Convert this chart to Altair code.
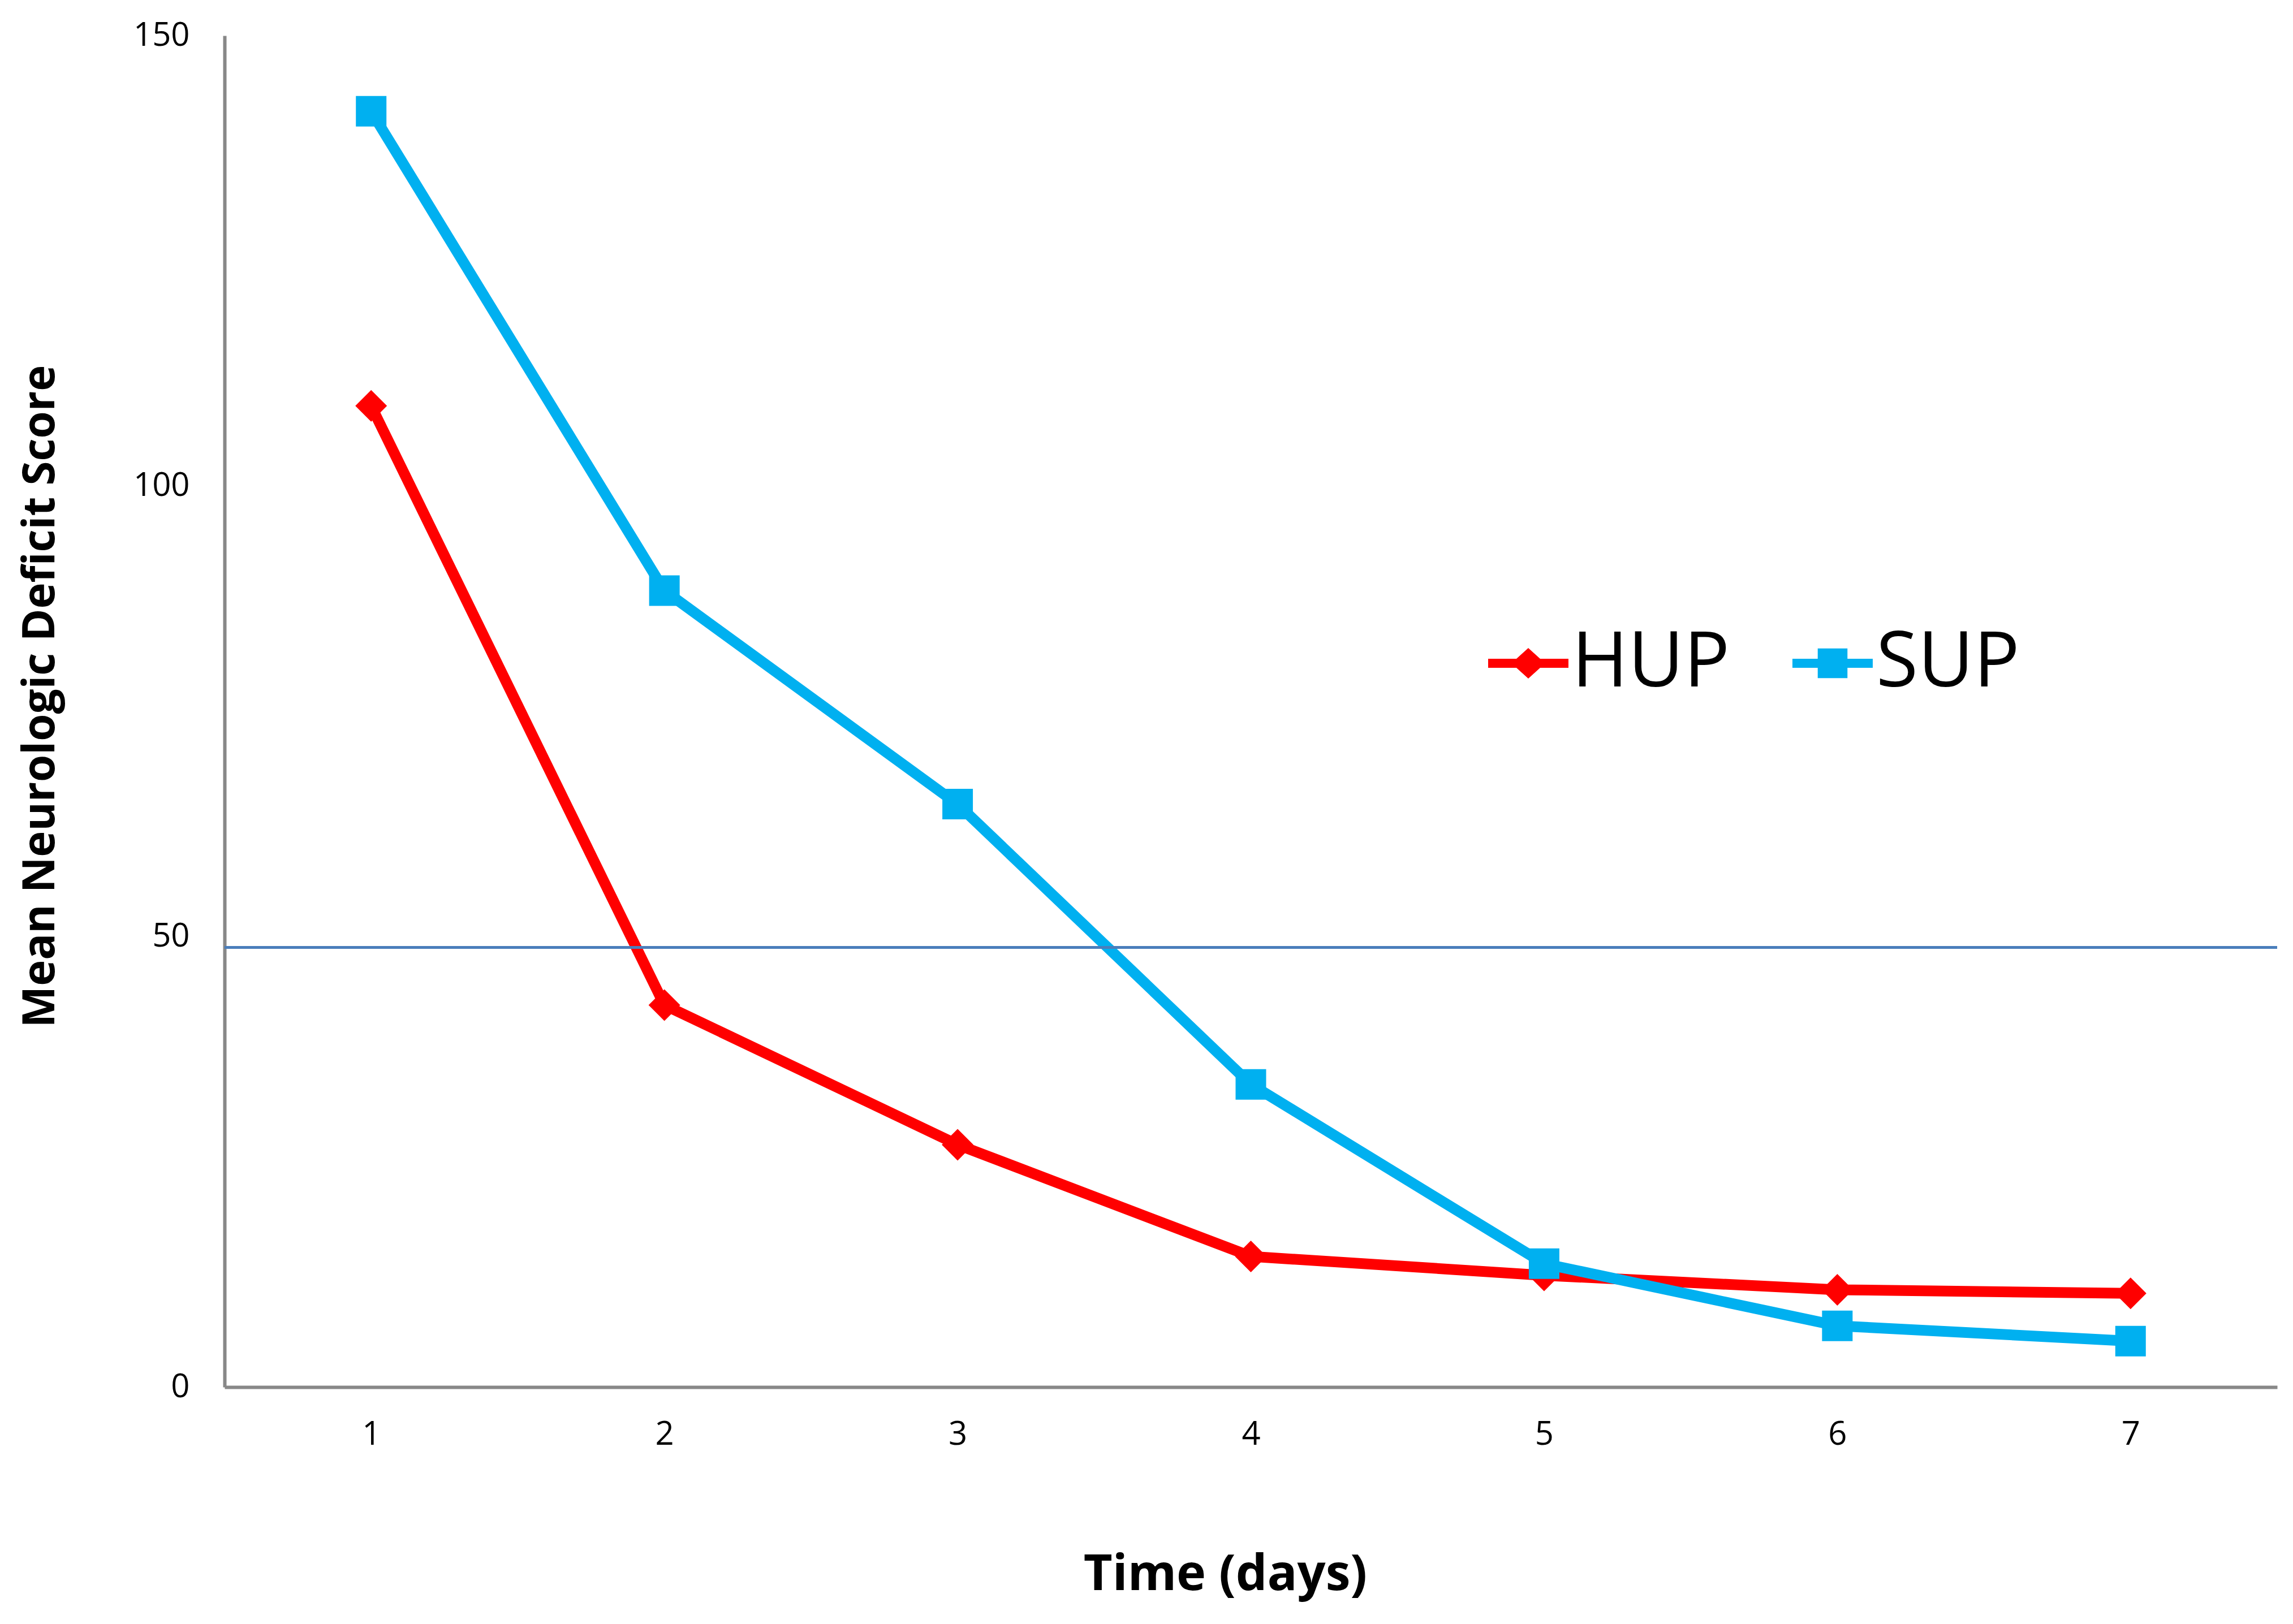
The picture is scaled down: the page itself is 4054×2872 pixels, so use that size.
import altair as alt
import pandas as pd

days = [1, 2, 3, 4, 5, 6, 7]
hup = [108.9, 42.4, 26.9, 14.5, 12.4, 10.8, 10.4]
sup = [141.6, 88.4, 64.7, 33.6, 13.7, 6.8, 5.1]
series_names = ["HUP", "SUP"]
series_colors = ["#FF0000", "#00B0F0"]
y_ticks = [0, 50, 100, 150]
ref_value = 48.8

df = pd.DataFrame({
    "day": days * 2,
    "score": hup + sup,
    "series": ["HUP"] * len(days) + ["SUP"] * len(days),
})
ref_df = pd.DataFrame({"score": [ref_value]})

FONT = "Open Sans"

x_enc = alt.X(
    "day:Q",
    scale=alt.Scale(domain=[0.5, 7.5], nice=False, zero=False),
    axis=alt.Axis(
        values=days, format="d", title="Time (days)",
        titleFont=FONT, titleFontWeight="bold", titleFontSize=88, titleColor="black",
        titleX=1769, titleY=332, titleBaseline="middle", titleAlign="center",
        labelFont=FONT, labelFontSize=58, labelColor="black", labelPadding=55,
        labelFlush=False, ticks=False, grid=False,
        domainColor="#888888", domainWidth=6,
    ),
)
y_enc = alt.Y(
    "score:Q",
    scale=alt.Scale(domain=[0, 150], nice=False),
    axis=alt.Axis(
        values=y_ticks, title="Mean Neurologic Deficit Score",
        titleFont=FONT, titleFontWeight="bold", titleFontSize=78, titleColor="black",
        titleX=-325, titleY=1168, titleAngle=270, titleAlign="center", titleBaseline="middle",
        labelFont=FONT, labelFontSize=58, labelColor="black", labelPadding=62,
        labelFlush=False, ticks=False, grid=False,
        domainColor="#888888", domainWidth=6,
    ),
)

# legend symbols: line segment with marker (unit coords, [-1, 1] spans the symbol)
hup_path = "M-1,-0.113L1,-0.113L1,0.113L-1,0.113Z M0,-0.38L0.42,0L0,0.38L-0.42,0Z"
sup_path = "M-1,-0.113L1,-0.113L1,0.113L-1,0.113Z M-0.37,-0.37L0.37,-0.37L0.37,0.37L-0.37,0.37Z"

legend = alt.Legend(
    title=None, orient="none", legendX=2234, legendY=1039, direction="horizontal",
    symbolSize=20164, symbolStrokeWidth=0, symbolOpacity=1,
    labelFont=FONT, labelFontSize=135, labelColor="black", labelOffset=6, labelLimit=2000,
    columnPadding=110, padding=0,
)

# invisible layer that carries the legend
legend_layer = alt.Chart(df).mark_point(filled=True, opacity=0).encode(
    x=x_enc, y=y_enc,
    color=alt.Color("series:N", scale=alt.Scale(domain=series_names, range=series_colors), legend=legend),
    shape=alt.Shape("series:N", scale=alt.Scale(domain=series_names, range=[hup_path, sup_path]), legend=legend),
)

def series_layers(name, color, shape, size):
    sub = alt.Chart(df).transform_filter(alt.datum.series == name)
    line = sub.mark_line(color=color, strokeWidth=19, strokeJoin="round", strokeCap="round").encode(
        x=x_enc, y=y_enc
    )
    pts = sub.mark_point(color=color, shape=shape, filled=True, size=size, opacity=1, strokeWidth=0).encode(
        x=x_enc, y=y_enc
    )
    return [line, pts]

layers = (series_layers("HUP", series_colors[0], "diamond", 3136)
          + series_layers("SUP", series_colors[1], "square", 2916))

rule = alt.Chart(ref_df).mark_rule(color="#4A7EBB", strokeWidth=5).encode(y=y_enc)

chart = alt.layer(legend_layer, *layers, rule).properties(
    width=3629, height=2390,
    background="white",
    autosize=alt.AutoSizeParams(type="none"),
    padding={"left": 389, "top": 55, "right": 20, "bottom": 400},
).configure_view(stroke="transparent", strokeWidth=0)

chart.save("out.html", embed_options={"renderer": "svg", "actions": False})
